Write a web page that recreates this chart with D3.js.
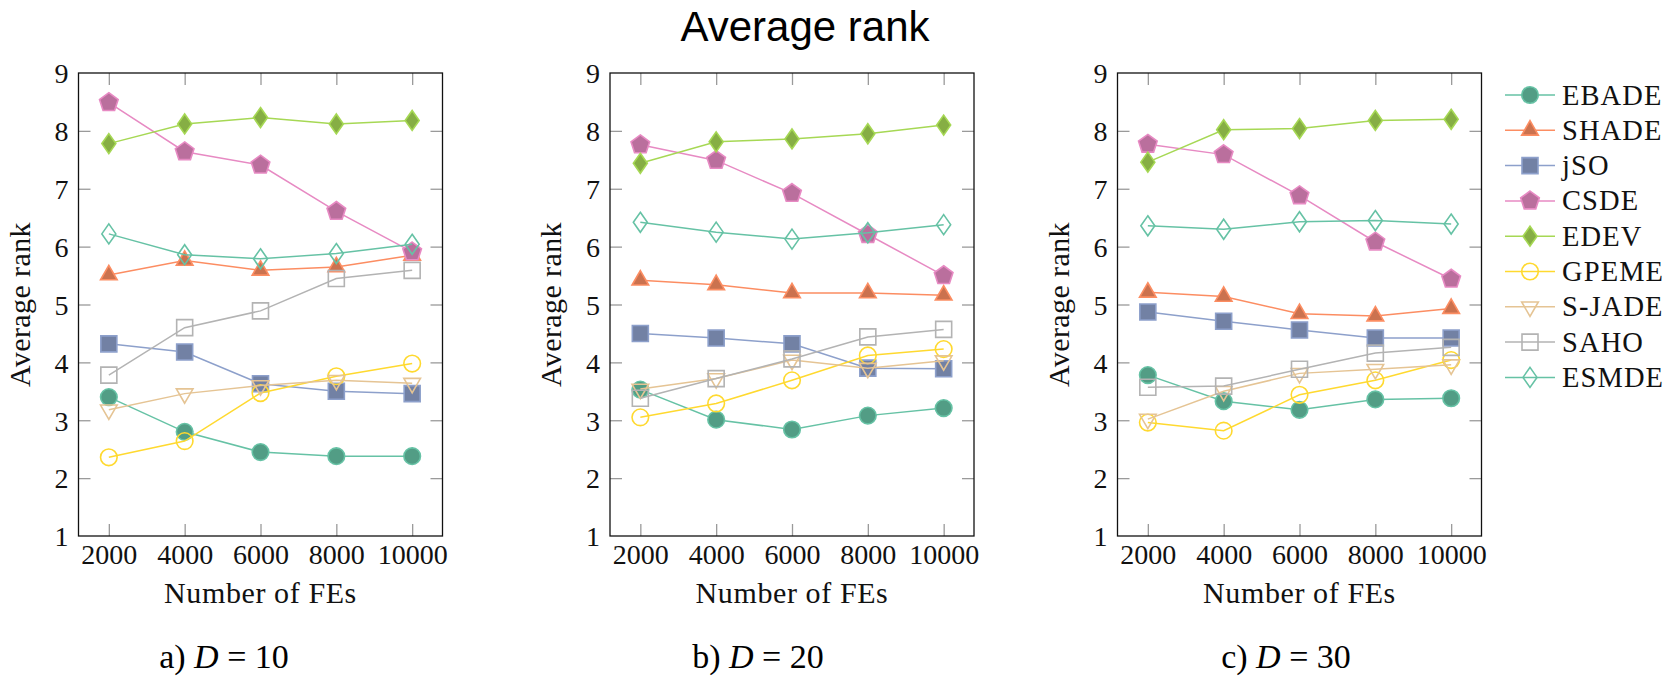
<!DOCTYPE html>
<html>
<head>
<meta charset="utf-8">
<script src="https://cdn.jsdelivr.net/npm/d3@7"></script>
<style>
  body { margin: 0; background: #fff; }
  svg { display: block; }
  .tick line { stroke: #9a9a9a; stroke-width: 1.3px; }
  .tick text { font-family: "Liberation Serif", serif; font-size: 28px; fill: #111; }
</style>
</head>
<body>
<svg id="chart" width="1664" height="676"></svg>
<script>
// x values (number of function evaluations) and y ticks
const fes = [2000, 4000, 6000, 8000, 10000];
const rankTicks = [1, 2, 3, 4, 5, 6, 7, 8, 9];

const methods = ["EBADE", "SHADE", "jSO", "CSDE", "EDEV", "GPEME", "S-JADE", "SAHO", "ESMDE"];

// average ranks, one row per method (same order as methods)
const rankD10 = [
    [3.40, 2.80, 2.45, 2.38, 2.38],
    [5.51, 5.76, 5.59, 5.65, 5.85],
    [4.32, 4.18, 3.63, 3.50, 3.46],
    [8.49, 7.64, 7.41, 6.61, 5.91],
    [7.78, 8.12, 8.23, 8.12, 8.18],
    [2.36, 2.64, 3.47, 3.76, 3.98],
    [3.18, 3.46, 3.60, 3.69, 3.64],
    [3.78, 4.60, 4.89, 5.45, 5.59],
    [6.22, 5.86, 5.79, 5.88, 6.04]
];
const rankD20 = [
    [3.53, 3.01, 2.84, 3.08, 3.21],
    [5.42, 5.34, 5.20, 5.20, 5.16],
    [4.50, 4.42, 4.32, 3.90, 3.89],
    [7.76, 7.49, 6.92, 6.21, 5.50],
    [7.44, 7.81, 7.86, 7.95, 8.10],
    [3.05, 3.29, 3.69, 4.12, 4.23],
    [3.54, 3.72, 4.04, 3.90, 4.03],
    [3.38, 3.72, 4.06, 4.44, 4.57],
    [6.42, 6.25, 6.13, 6.24, 6.38]
];
const rankD30 = [
    [3.78, 3.33, 3.18, 3.36, 3.38],
    [5.21, 5.14, 4.84, 4.80, 4.93],
    [4.87, 4.71, 4.56, 4.42, 4.42],
    [7.77, 7.59, 6.88, 6.08, 5.44],
    [7.46, 8.02, 8.04, 8.18, 8.20],
    [2.96, 2.82, 3.44, 3.69, 4.04],
    [3.02, 3.50, 3.81, 3.88, 3.96],
    [3.57, 3.59, 3.88, 4.16, 4.26],
    [6.36, 6.30, 6.43, 6.45, 6.39]
];

const panelLetters = ["a)", "b)", "c)"];
const panelDims = ["10", "20", "30"];

// ---- styles ----
const lineColors = ["#66c2a5", "#fc8d62", "#8da0cb", "#e78ac3", "#a6d854", "#ffd92f", "#e5c494", "#b3b3b3", "#66c2a5"];
const markShapes = ["circle", "triangle", "square", "pentagon", "diamond", "circle", "triangleDown", "square", "diamond"];
const markFilled = [true, true, true, true, true, false, false, false, false];

const svg = d3.select("#chart");
const serif = "'Liberation Serif', 'Times New Roman', serif";

const panelLeft = [78.5, 610, 1117.5];
const panelWidth = 364;
const plotTop = 73;
const plotBottom = 536;
const captionX = [224, 758, 1286];

function markerPath(shape) {
    const p = d3.path();
    if (shape === "circle") {
        p.arc(0, 0, 8.3, 0, 2 * Math.PI);
    } else if (shape === "square") {
        p.rect(-8, -8, 16, 16);
    } else if (shape === "diamond") {
        p.moveTo(0, -10); p.lineTo(7, 0); p.lineTo(0, 10); p.lineTo(-7, 0);
    } else {
        let n = 3, r = 9.6, start = -90;
        if (shape === "triangleDown") start = 90;
        if (shape === "pentagon") { n = 5; r = 9.8; }
        for (let k = 0; k < n; k++) {
            const a = (start + k * 360 / n) * Math.PI / 180;
            if (k === 0) p.moveTo(r * Math.cos(a), r * Math.sin(a));
            else p.lineTo(r * Math.cos(a), r * Math.sin(a));
        }
    }
    p.closePath();
    return p.toString();
}

function drawMarker(g, i, x, y) {
    const c = lineColors[i];
    g.append("path")
        .attr("d", markerPath(markShapes[i]))
        .attr("transform", `translate(${x},${y})`)
        .attr("fill", markFilled[i] ? d3.rgb(c).darker(0.6).formatHex() : "none")
        .attr("stroke", c)
        .attr("stroke-width", 1.6)
        .attr("stroke-linejoin", "miter");
}

// title
svg.append("text")
    .attr("x", 805).attr("y", 41)
    .attr("text-anchor", "middle")
    .attr("font-family", "'Liberation Sans', Arial, sans-serif")
    .attr("font-size", "42px")
    .text("Average rank");

[rankD10, rankD20, rankD30].forEach((ranks, pi) => {
    const left = panelLeft[pi];
    const right = left + panelWidth;
    const x = d3.scaleLinear().domain([1200, 10800]).range([left, right]);
    const y = d3.scaleLinear().domain([1, 9]).range([plotBottom, plotTop]);
    const g = svg.append("g");

    // axes with inner ticks on all four sides
    g.append("g").attr("transform", `translate(0,${plotBottom})`)
        .call(d3.axisBottom(x).tickValues(fes).tickSize(-12).tickPadding(8).tickFormat(d3.format("d")))
        .call(a => a.select(".domain").remove());
    g.append("g").attr("transform", `translate(0,${plotTop})`)
        .call(d3.axisTop(x).tickValues(fes).tickSize(-12).tickFormat(""))
        .call(a => a.select(".domain").remove());
    g.append("g").attr("transform", `translate(${left},0)`)
        .call(d3.axisLeft(y).tickValues(rankTicks).tickSize(-12).tickPadding(10).tickFormat(d3.format("d")))
        .call(a => a.select(".domain").remove())
        .call(a => a.selectAll("text").attr("dy", "0.35em"));
    g.append("g").attr("transform", `translate(${right},0)`)
        .call(d3.axisRight(y).tickValues(rankTicks).tickSize(-12).tickFormat(""))
        .call(a => a.select(".domain").remove());
    // hide ticks that would sit on the frame corners
    g.selectAll(".tick").filter(d => d === 1 || d === 9).select("line").remove();

    g.append("rect")
        .attr("x", left).attr("y", plotTop)
        .attr("width", panelWidth).attr("height", plotBottom - plotTop)
        .attr("fill", "none").attr("stroke", "#111").attr("stroke-width", 1.3);

    // series
    const line = d3.line().x((d, j) => x(fes[j])).y(d => y(d));
    ranks.forEach((vals, i) => {
        const s = g.append("g");
        s.append("path")
            .attr("d", line(vals))
            .attr("fill", "none")
            .attr("stroke", lineColors[i])
            .attr("stroke-width", 1.5);
        vals.forEach((v, j) => drawMarker(s, i, x(fes[j]), y(v)));
    });

    // axis labels
    g.append("text")
        .attr("x", (left + right) / 2).attr("y", plotBottom + 67)
        .attr("text-anchor", "middle")
        .attr("font-family", serif).attr("font-size", "30px").attr("fill", "#111")
        .attr("letter-spacing", "0.6px")
        .text("Number of FEs");
    g.append("text")
        .attr("transform", `translate(${left - 49},${(plotTop + plotBottom) / 2}) rotate(-90)`)
        .attr("text-anchor", "middle")
        .attr("font-family", serif).attr("font-size", "30px").attr("fill", "#111")
        .attr("letter-spacing", "0.4px")
        .text("Average rank");

    // caption
    const cap = svg.append("text")
        .attr("x", captionX[pi]).attr("y", 668)
        .attr("text-anchor", "middle")
        .attr("font-family", serif).attr("font-size", "34px").attr("fill", "#000");
    cap.append("tspan").text(panelLetters[pi] + " ");
    cap.append("tspan").attr("font-style", "italic").text("D");
    cap.append("tspan").text(" = " + panelDims[pi]);
});

// legend
const legend = svg.append("g");
methods.forEach((name, i) => {
    const ly = 95 + i * 35.3;
    legend.append("line")
        .attr("x1", 1505).attr("x2", 1555).attr("y1", ly).attr("y2", ly)
        .attr("stroke", lineColors[i]).attr("stroke-width", 1.5);
    drawMarker(legend, i, 1530, ly);
    legend.append("text")
        .attr("x", 1562).attr("y", ly + 9.5)
        .attr("font-family", serif).attr("font-size", "28.5px").attr("fill", "#111")
        .attr("letter-spacing", "1.1px")
        .text(name);
});
</script>
</body>
</html>
